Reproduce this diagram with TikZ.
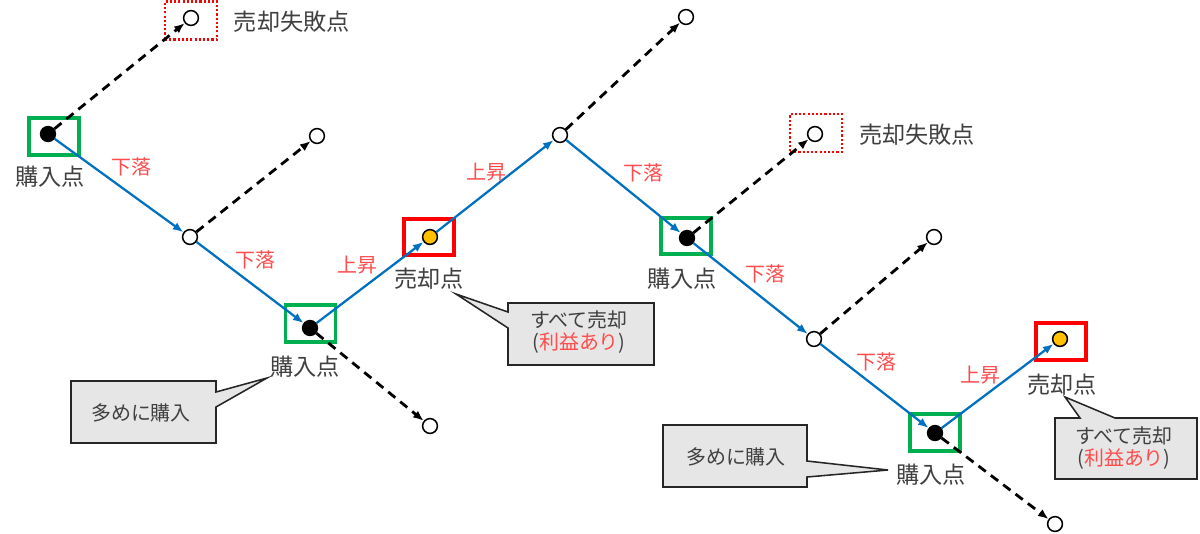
\documentclass[tikz,border=0pt]{standalone}
\usepackage{fontspec}
\setmainfont{Noto Sans CJK JP}
\usetikzlibrary{arrows.meta}
\definecolor{txtgray}{HTML}{404040}
\definecolor{lblred}{HTML}{FF4B4B}
\definecolor{lineblue}{HTML}{0070C0}
\definecolor{boxgreen}{HTML}{00B050}
\definecolor{boxred}{HTML}{FF0000}
\definecolor{sellyellow}{HTML}{FFC000}
\definecolor{callfill}{HTML}{E7E6E6}
\definecolor{callline}{HTML}{262626}
\begin{document}
\begin{tikzpicture}[x=0.025cm,y=-0.025cm,
  pt/.style={circle,draw=black,line width=1.1pt,minimum size=0.37cm,inner sep=0pt},
  wpt/.style={pt,fill=white},
  bpt/.style={pt,fill=black},
  ypt/.style={pt,fill=sellyellow},
  gbox/.style={draw=boxgreen,line width=2.8pt,minimum width=1.25cm,minimum height=0.92cm,inner sep=0pt},
  rbox/.style={draw=boxred,line width=2.8pt,minimum width=1.25cm,minimum height=0.92cm,inner sep=0pt},
  fbox/.style={draw=boxred,line width=1.8pt,dash pattern=on 1.5pt off 1.5pt,minimum width=1.3cm,minimum height=0.95cm,inner sep=0pt},
  blueline/.style={draw=lineblue,line width=1.6pt,-{Latex[length=7.5pt,width=6pt]}},
  dashline/.style={draw=black,line width=2pt,dash pattern=on 6.5pt off 4.5pt,-{Latex[length=7.5pt,width=6pt]}},
  lbl/.style={text=txtgray,font=\fontsize{16.5pt}{18pt}\selectfont,inner sep=0pt},
  redlbl/.style={text=lblred,font=\fontsize{14.2pt}{16pt}\selectfont,inner sep=0pt},
  ctext/.style={text=txtgray,font=\fontsize{14.2pt}{16pt}\selectfont,align=center,inner sep=0pt},
  callout/.style={fill=callfill,draw=callline,line width=1.1pt,line join=miter}
]
\useasboundingbox (0,0) rectangle (1200,533);

% boxes
\node[gbox] (boxA) at (54,136.5) {};
\node[gbox] (boxC) at (310.5,323.5) {};
\node[rbox] (boxD) at (429,237) {};
\node[gbox] (boxG) at (686,236) {};
\node[gbox] (boxI) at (935,432.5) {};
\node[rbox] (boxJ) at (1061,341.5) {};
\node[fbox] (boxF1) at (191,20.5) {};
\node[fbox] (boxF2) at (816,133) {};

% points
\node[bpt] (A) at (48,134) {};
\node[wpt] (F1) at (191,18) {};
\node[wpt] (B) at (190,237) {};
\node[wpt] (P1) at (317,136) {};
\node[bpt] (C) at (310,328) {};
\node[wpt] (Q1) at (430,426) {};
\node[ypt] (D) at (430,237) {};
\node[wpt] (E) at (560,135) {};
\node[wpt] (P2) at (686,17) {};
\node[bpt] (G) at (687,238) {};
\node[wpt] (F2) at (815,134) {};
\node[wpt] (H) at (814,339) {};
\node[wpt] (P3) at (934,237) {};
\node[bpt] (I) at (935,433) {};
\node[wpt] (Q2) at (1055,524) {};
\node[ypt] (J) at (1060,339) {};

% main path
\draw[blueline] (A) -- (B);
\draw[blueline] (B) -- (C);
\draw[blueline] (C) -- (D);
\draw[blueline] (D) -- (E);
\draw[blueline] (E) -- (G);
\draw[blueline] (G) -- (H);
\draw[blueline] (H) -- (I);
\draw[blueline] (I) -- (J);

% dashed branches
\draw[dashline] (A) -- (F1);
\draw[dashline] (B) -- (P1);
\draw[dashline] (C) -- (Q1);
\draw[dashline] (E) -- (P2);
\draw[dashline] (G) -- (F2);
\draw[dashline] (H) -- (P3);
\draw[dashline] (I) -- (Q2);

% labels
\node[lbl] (lf1) at (292,22) {売却失敗点};
\node[lbl] (lf2) at (917,135) {売却失敗点};
\node[lbl] (lbA) at (50,177) {購入点};
\node[lbl] (lbC) at (305,367) {購入点};
\node[lbl] (lbG) at (682,279) {購入点};
\node[lbl] (lbI) at (931,475) {購入点};
\node[lbl] (lsD) at (429,279) {売却点};
\node[lbl] (lsJ) at (1062,385) {売却点};

\node[redlbl] (r1) at (131,167) {下落};
\node[redlbl] (r2) at (255,260) {下落};
\node[redlbl] (r3) at (357,265) {上昇};
\node[redlbl] (r4) at (486,172) {上昇};
\node[redlbl] (r5) at (643,173) {下落};
\node[redlbl] (r6) at (765,274) {下落};
\node[redlbl] (r7) at (876,362) {下落};
\node[redlbl] (r8) at (980,375) {上昇};

% callouts
\path[callout] (71,381) -- (216,381) -- (216,392) -- (267,378) -- (216,407) -- (216,443) -- (71,443) -- cycle;
\node[ctext] (c1) at (141,413) {多めに購入};

\path[callout] (508,303) -- (654,303) -- (654,365) -- (508,365) -- (508,328) -- (456,294) -- (508,312) -- cycle;
\node[ctext] (c2) at (579,332) {すべて売却\\(\textcolor{lblred}{利益あり})};

\path[callout] (663,425) -- (807,425) -- (807,461) -- (888,470) -- (807,477) -- (807,487) -- (663,487) -- cycle;
\node[ctext] (c3) at (736,457) {多めに購入};

\path[callout] (1055,418) -- (1080,418) -- (1065,397) -- (1115,418) -- (1197,418) -- (1197,479) -- (1055,479) -- cycle;
\node[ctext] (c4) at (1124,448) {すべて売却\\(\textcolor{lblred}{利益あり})};
\end{tikzpicture}
\end{document}
